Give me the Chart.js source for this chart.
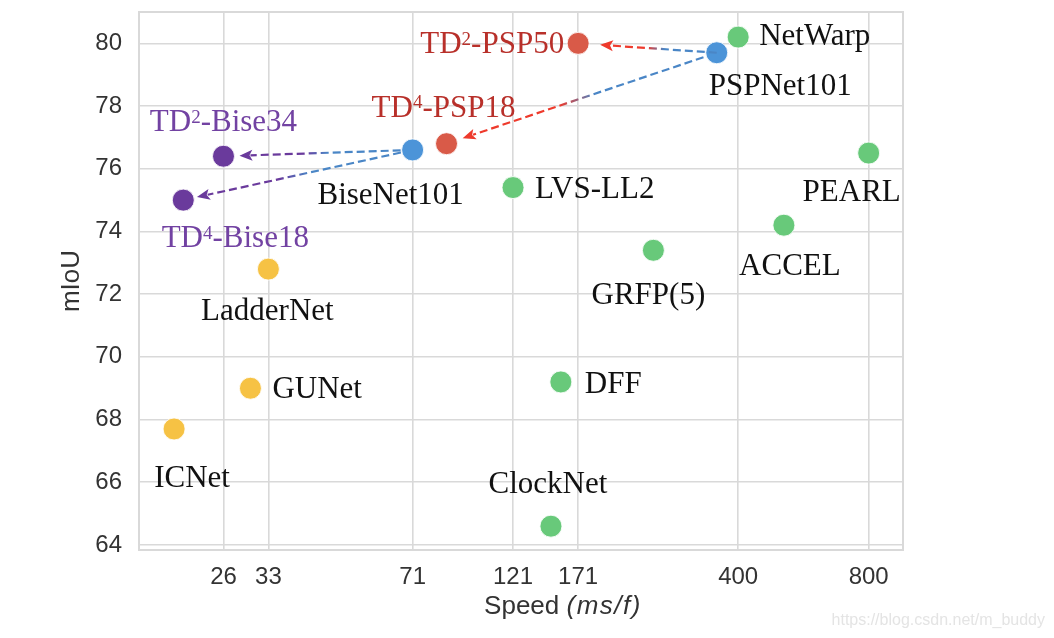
<!DOCTYPE html>
<html><head><meta charset="utf-8">
<script src="https://cdn.jsdelivr.net/npm/chart.js@4/dist/chart.umd.min.js"></script>
<style>html,body{margin:0;padding:0;background:#fff}#wrap{width:1054px;height:638px;position:relative}</style>
</head><body><div id="wrap"><canvas id="c"></canvas></div>
<script>
// ---------- data ----------
const methods = ['ICNet','GUNet','LadderNet','TD⁴-Bise18','TD²-Bise34','BiseNet101','TD⁴-PSP18','TD²-PSP50','PSPNet101','NetWarp','LVS-LL2','PEARL','ACCEL','GRFP(5)','DFF','ClockNet'];
const speed   = [20, 30, 33, 21, 26, 71, 85, 171, 357, 400, 121, 800, 510, 255, 156, 148];
const miou    = [67.7, 69.0, 72.8, 75.0, 76.4, 76.6, 76.8, 80.0, 79.7, 80.2, 75.4, 76.5, 74.2, 73.4, 69.2, 64.6];
const group   = ['Image','Image','Image','TD-Bise','TD-Bise','Teacher','TD-PSP','TD-PSP','Teacher','Video','Video','Video','Video','Video','Video','Video'];
const xTicks  = [26, 33, 71, 121, 171, 400, 800];
const yTicks  = [64, 66, 68, 70, 72, 74, 76, 78, 80];
const arrowFrom = ['PSPNet101','PSPNet101','BiseNet101','BiseNet101'];
const arrowTo   = ['TD²-PSP50','TD⁴-PSP18','TD²-Bise34','TD⁴-Bise18'];
const xTitle = 'Speed';
const xTitleUnit = '(ms/f)';
const yTitle = 'mIoU';
const watermark = 'https://blog.csdn.net/m_buddy';

// ---------- style / layout ----------
const groupColor = {'Video':'#68c97a','Image':'#f6c244','Teacher':'#4c94d8','TD-PSP':'#d95a48','TD-Bise':'#6a3a9c'};
const labelColor = {'Video':'#111','Image':'#111','Teacher':'#111','TD-PSP':'#b8302a','TD-Bise':'#7242a2'};
const arrowColor = {'Teacher':'#4a86c6','TD-PSP':'#ee3a2c','TD-Bise':'#6a3a9c'};
// label offsets in px relative to marker: [dx, dy, align]
const labelPos = [[18,48,'center'],[22,0,'left'],[-1,41,'center'],[52,37,'center'],[0,-35,'center'],[-22,44,'center'],
  [-3,-37,'center'],[-14,0,'right'],[-8,32,'left'],[21,-2,'left'],[22,0,'left'],[-17,38,'center'],[6,40,'center'],
  [-5,44,'center'],[24,1,'left'],[-3,-43,'center']];
const arrowShrink = [[0,22],[14,17],[12,16],[12,14]];
const gridColor = '#d9d9d9';
const LABEL_SIZE = 31;
const SERIF = '"Liberation Serif","Times New Roman",serif';
const SANS = '"Liberation Sans",Arial,sans-serif';

const groupsOrder = ['Image','Video','Teacher','TD-PSP','TD-Bise'];
const datasets = groupsOrder.map(g => ({
  label: g,
  data: methods.map((m,i)=>({x:speed[i], y:miou[i], g:group[i]})).filter(p=>p.g===g),
  backgroundColor: groupColor[g],
  borderColor: 'rgba(255,255,255,0.85)',
  borderWidth: 1,
  pointRadius: 11,
  pointHoverRadius: 11
}));

const SUP = {'²':'2','⁴':'4','³':'3','¹':'1'};
function drawRich(ctx, text, x, y, align, size, color) {
  const parts = [];
  for (const ch of text) {
    const sup = SUP[ch] !== undefined;
    const t = sup ? SUP[ch] : ch;
    if (parts.length && parts[parts.length-1].sup === sup) parts[parts.length-1].t += t;
    else parts.push({t, sup});
  }
  const nf = size + 'px ' + SERIF, sf = Math.round(size*0.62) + 'px ' + SERIF;
  let w = 0;
  parts.forEach(p => { ctx.font = p.sup ? sf : nf; p.w = ctx.measureText(p.t).width; w += p.w; });
  let cx = align === 'left' ? x : align === 'right' ? x - w : x - w/2;
  ctx.fillStyle = color; ctx.textAlign = 'left'; ctx.textBaseline = 'alphabetic';
  parts.forEach(p => {
    ctx.font = p.sup ? sf : nf;
    ctx.fillText(p.t, cx, p.sup ? y - size*0.27 : y);
    cx += p.w;
  });
}

const decor = {
  id: 'decor',
  beforeDatasetsDraw(chart) {
    const {ctx, chartArea: a} = chart;
    ctx.save();
    ctx.strokeStyle = gridColor; ctx.lineWidth = 2;
    ctx.strokeRect(a.left, a.top, a.right - a.left, a.bottom - a.top);
    ctx.restore();
  },
  afterDatasetsDraw(chart) {
    const {ctx, chartArea: a} = chart;
    const xs = chart.scales.x, ys = chart.scales.y;
    const P = i => ({x: xs.getPixelForValue(speed[i]), y: ys.getPixelForValue(miou[i])});
    ctx.save();
    // arrows
    arrowFrom.forEach((f, k) => {
      const si = methods.indexOf(f), ti = methods.indexOf(arrowTo[k]);
      const s = P(si), t = P(ti);
      const dx = t.x - s.x, dy = t.y - s.y, L = Math.hypot(dx, dy);
      const ux = dx/L, uy = dy/L;
      const st = {x: s.x + ux*arrowShrink[k][0], y: s.y + uy*arrowShrink[k][0]};
      const tip = {x: t.x - ux*arrowShrink[k][1], y: t.y - uy*arrowShrink[k][1]};
      const head = 13, hw = 5.5;
      const base = {x: tip.x - ux*head, y: tip.y - uy*head};
      const c0 = arrowColor[group[si]], c1 = arrowColor[group[ti]];
      const grad = ctx.createLinearGradient(st.x, st.y, tip.x, tip.y);
      grad.addColorStop(0, c0); grad.addColorStop(0.45, c0); grad.addColorStop(0.6, c1); grad.addColorStop(1, c1);
      ctx.strokeStyle = grad; ctx.lineWidth = 2.2; ctx.setLineDash([8,4]);
      ctx.beginPath(); ctx.moveTo(st.x, st.y); ctx.lineTo(base.x + ux*2, base.y + uy*2); ctx.stroke();
      ctx.setLineDash([]);
      ctx.fillStyle = c1;
      ctx.beginPath();
      ctx.moveTo(tip.x, tip.y);
      ctx.lineTo(base.x - uy*hw, base.y + ux*hw);
      ctx.lineTo(base.x + ux*3, base.y + uy*3);
      ctx.lineTo(base.x + uy*hw, base.y - ux*hw);
      ctx.closePath(); ctx.fill();
    });
    // labels
    methods.forEach((m, i) => {
      const p = P(i), o = labelPos[i];
      drawRich(ctx, m, p.x + o[0], p.y + o[1] + 10, o[2], LABEL_SIZE, labelColor[group[i]]);
    });
    // axis titles
    ctx.fillStyle = '#333';
    ctx.textBaseline = 'middle';
    ctx.font = '26px ' + SANS;
    const w1 = ctx.measureText(xTitle + ' ').width;
    ctx.font = 'italic 26px ' + SANS;
    ctx.letterSpacing = '1.5px';
    const w2 = ctx.measureText(xTitleUnit).width;
    ctx.letterSpacing = '0px';
    const xc = (a.left + a.right)/2 + 42;
    let x0 = xc - (w1 + w2)/2;
    ctx.textAlign = 'left';
    ctx.font = '26px ' + SANS; ctx.fillText(xTitle + ' ', x0, 607);
    ctx.font = 'italic 26px ' + SANS; ctx.letterSpacing = '1.5px';
    ctx.fillText(xTitleUnit, x0 + w1, 607);
    ctx.letterSpacing = '0px';
    ctx.save();
    ctx.translate(72, (a.top + a.bottom)/2);
    ctx.rotate(-Math.PI/2);
    ctx.textAlign = 'center';
    ctx.font = '26px ' + SANS;
    ctx.fillText(yTitle, 0, 0);
    ctx.restore();
    // watermark
    ctx.fillStyle = '#e4e4e4'; ctx.font = '16px ' + SANS; ctx.textAlign = 'right';
    ctx.fillText(watermark, 1045, 621);
    ctx.restore();
  }
};

new Chart(document.getElementById('c'), {
  type: 'scatter',
  data: { datasets },
  options: {
    responsive: true, maintainAspectRatio: false, animation: false,
    events: [],
    layout: { padding: { left: 0, right: 151, top: 10, bottom: 0 } },
    plugins: { legend: { display: false }, tooltip: { enabled: false } },
    scales: {
      x: {
        type: 'logarithmic', min: 16.6, max: 960,
        afterBuildTicks: s => { s.ticks = xTicks.map(v => ({value: v})); },
        afterFit: s => { s.height = 88; s.paddingLeft = 0; s.paddingRight = 0; },
        grid: { color: gridColor, lineWidth: 1.6, drawTicks: false },
        border: { display: false },
        ticks: { color: '#333', font: { family: SANS, size: 24 }, padding: 13, autoSkip: false, maxRotation: 0,
                 callback: v => String(v) }
      },
      y: {
        type: 'linear', min: 63.84, max: 81.0,
        afterBuildTicks: s => { s.ticks = yTicks.map(v => ({value: v})); },
        afterFit: s => { s.width = 139; s.paddingTop = 0; s.paddingBottom = 0; },
        grid: { color: gridColor, lineWidth: 1.6, drawTicks: false },
        border: { display: false },
        ticks: { color: '#333', font: { family: SANS, size: 24 }, padding: 17, autoSkip: false,
                 callback: v => String(v) }
      }
    }
  },
  plugins: [decor]
});
</script></body></html>
